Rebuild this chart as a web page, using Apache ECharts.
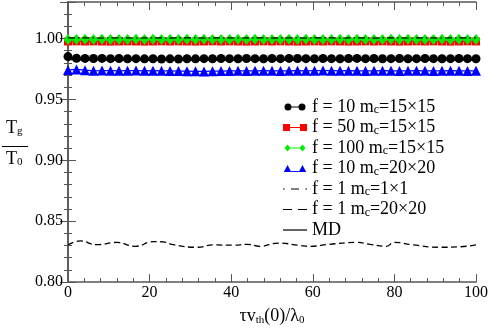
<!DOCTYPE html>
<html><head><meta charset="utf-8">
<script src="https://cdn.jsdelivr.net/npm/echarts@6/dist/echarts.min.js"></script>
<style>html,body{margin:0;padding:0;background:#fff}#c{width:491px;height:331px}</style>
</head><body><div id="c"></div>
<script>
const tau = [0,2.08,4.17,6.25,8.33,10.42,12.5,14.58,16.67,18.75,20.83,22.92,25,27.08,29.17,31.25,33.33,35.42,37.5,39.58,41.67,43.75,45.83,47.92,50,52.08,54.17,56.25,58.33,60.42,62.5,64.58,66.67,68.75,70.83,72.92,75,77.08,79.17,81.25,83.33,85.42,87.5,89.58,91.67,93.75,95.83,97.92,100];
const f10_15 = [0.9852,0.9838,0.9837,0.9836,0.9837,0.9835,0.9836,0.9834,0.9835,0.9833,0.9834,0.9832,0.9833,0.9832,0.9834,0.9833,0.9835,0.9834,0.9836,0.9835,0.9834,0.9836,0.9835,0.9834,0.9836,0.9835,0.9837,0.9836,0.9835,0.9834,0.9836,0.9835,0.9834,0.9836,0.9837,0.9835,0.9836,0.9834,0.9835,0.9836,0.9834,0.9835,0.9836,0.9835,0.9834,0.9835,0.9836,0.9835,0.9834];
const f50_15 = [0.9976,0.9977,0.9976,0.9977,0.9976,0.9975,0.9976,0.9977,0.9976,0.9975,0.9976,0.9977,0.9976,0.9977,0.9976,0.9975,0.9976,0.9977,0.9976,0.9977,0.9976,0.9975,0.9976,0.9977,0.9976,0.9977,0.9976,0.9975,0.9976,0.9977,0.9976,0.9977,0.9976,0.9975,0.9976,0.9977,0.9976,0.9977,0.9976,0.9975,0.9976,0.9977,0.9976,0.9977,0.9976,0.9975,0.9976,0.9977,0.9976];
const f100_15 = [0.9992,0.9993,0.9994,0.9993,0.9994,0.9993,0.9992,0.9993,0.9994,0.9993,0.9994,0.9993,0.9992,0.9993,0.9994,0.9993,0.9994,0.9993,0.9992,0.9993,0.9994,0.9993,0.9994,0.9993,0.9992,0.9993,0.9994,0.9993,0.9994,0.9993,0.9992,0.9993,0.9994,0.9993,0.9994,0.9993,0.9992,0.9993,0.9994,0.9993,0.9994,0.9993,0.9992,0.9993,0.9994,0.9993,0.9994,0.9993,0.9993];
const f10_20 = [0.9742,0.9746,0.9740,0.9735,0.9737,0.9736,0.9735,0.9736,0.9737,0.9735,0.9736,0.9735,0.9734,0.9733,0.9732,0.9731,0.9730,0.9732,0.9733,0.9734,0.9735,0.9734,0.9735,0.9736,0.9735,0.9734,0.9735,0.9736,0.9735,0.9736,0.9737,0.9736,0.9735,0.9736,0.9735,0.9734,0.9735,0.9736,0.9735,0.9734,0.9735,0.9736,0.9735,0.9734,0.9735,0.9736,0.9735,0.9734,0.9735];
const md = [0.9828,0.9826,0.9824,0.9823,0.9825,0.9822,0.9824,0.9823,0.9822,0.9824,0.9822,0.9821,0.9822,0.9824,0.9822,0.9821,0.9823,0.9824,0.9822,0.9823,0.9824,0.9822,0.9823,0.9824,0.9823,0.9822,0.9824,0.9823,0.9824,0.9822,0.9823,0.9824,0.9822,0.9823,0.9824,0.9823,0.9822,0.9824,0.9823,0.9822,0.9824,0.9823,0.9822,0.9823,0.9824,0.9822,0.9823,0.9824,0.9823];
const f1_1 = [1.0006,1.0005,1.0006,1.0005,1.0004,1.0005,1.0006,1.0005,1.0004,1.0005,1.0006,1.0005,1.0004,1.0005,1.0006,1.0005,1.0004,1.0005,1.0006,1.0005,1.0004,1.0005,1.0006,1.0005,1.0004,1.0005,1.0006,1.0005,1.0004,1.0005,1.0006,1.0005,1.0004,1.0005,1.0006,1.0005,1.0004,1.0005,1.0006,1.0005,1.0004,1.0005,1.0006,1.0005,1.0004,1.0005,1.0006,1.0005,1.0005];
const lowTau = [0,3,7,12,16.4,21,23.4,25.8,31.6,35.6,40.5,44,47,51.5,57,59.3,64,70.8,74,78,80,84.6,91,96,100];
const f1_20 = [0.8305,0.8338,0.8307,0.8326,0.8294,0.8332,0.8330,0.8307,0.8286,0.8305,0.8303,0.8310,0.8294,0.8320,0.8300,0.8294,0.8310,0.8326,0.8310,0.8294,0.8326,0.8305,0.8286,0.8290,0.8305];
const xTicks = [0,20,40,60,80,100];
const yTicks = [0.80,0.85,0.90,0.95,1.00];
const names = ['f = 10 m{s|c}=15×15','f = 50 m{s|c}=15×15','f = 100 m{s|c}=15×15','f = 10 m{s|c}=20×20','f = 1 m{s|c}=1×1','f = 1 m{s|c}=20×20','MD'];

const pairs = a => tau.map((t,i)=>[t,a[i]]);
const FONT = 'Liberation Serif';
const circ = (x)=>`M${x},4 A4,4 0 1,0 ${x+8},4 A4,4 0 1,0 ${x},4 Z`;
const icons = [
  'path://'+circ(0)+' M8,3.5 L16,3.5 L16,4.5 L8,4.5 Z '+circ(16),
  'path://M0,0.5 L7,0.5 L7,7.5 L0,7.5 Z M7,3.5 L17,3.5 L17,4.5 L7,4.5 Z M17,0.5 L24,0.5 L24,7.5 L17,7.5 Z',
  'path://M0,4 L3.5,0 L7,4 L3.5,8 Z M7,3.5 L17,3.5 L17,4.5 L7,4.5 Z M17,4 L20.5,0 L24,4 L20.5,8 Z',
  'path://M0,8 L4,0.5 L8,8 Z M8,7 L16,7 L16,8 L8,8 Z M16,8 L20,0.5 L24,8 Z',
  'path://M0,0 L1.6,0 L1.6,1.2 L0,1.2 Z M8,0 L16,0 L16,1.2 L8,1.2 Z M22.4,0 L24,0 L24,1.2 L22.4,1.2 Z',
  'path://M0,0 L9,0 L9,1.2 L0,1.2 Z M15,0 L24,0 L24,1.2 L15,1.2 Z',
  'path://M0,0 L24,0 L24,1.2 L0,1.2 Z'
];
const colors = ['#000','#ff0000','#00ee00','#0000ff','#000','#000','#000'];

const axisCommon = {
  type:'value', min:0, max:100, interval:20,
  axisLine:{show:true, lineStyle:{color:'#555', width:1.5}},
  axisTick:{show:true, inside:true, length:8, lineStyle:{color:'#555', width:1}},
  minorTick:{show:true, splitNumber:5, length:4, lineStyle:{color:'#555', width:1}},
  splitLine:{show:false}, minorSplitLine:{show:false}
};
const yCommon = {
  type:'value', min:0.80, max:1.03, interval:0.05,
  axisLine:{show:true, lineStyle:{color:'#555', width:1.5}},
  axisTick:{show:true, inside:true, length:8, lineStyle:{color:'#555', width:1}},
  minorTick:{show:true, splitNumber:5, length:4, lineStyle:{color:'#555', width:1}},
  splitLine:{show:false}, minorSplitLine:{show:false}
};

const sym = {type:'line', showSymbol:true, symbolSize:9, lineStyle:{width:1.3}, animation:false};
const series = [
  {name:names[6], type:'line', data:pairs(md), showSymbol:false, symbol:'none', lineStyle:{color:'#000', width:1.3}, itemStyle:{color:'#000'}, smooth:true, z:2},
  Object.assign({}, sym, {name:names[0], data:pairs(f10_15), symbol:'circle', itemStyle:{color:colors[0]}, lineStyle:{color:colors[0], width:1.3}, z:3}),
  Object.assign({}, sym, {name:names[1], data:pairs(f50_15), symbol:'rect', symbolSize:8, itemStyle:{color:colors[1]}, lineStyle:{color:colors[1], width:1.3}, z:3}),
  Object.assign({}, sym, {name:names[2], data:pairs(f100_15), symbol:'diamond', symbolSize:[9,11], itemStyle:{color:colors[2]}, lineStyle:{color:colors[2], width:1.3}, z:4}),
  Object.assign({}, sym, {name:names[3], data:pairs(f10_20), symbol:'triangle', symbolSize:10, itemStyle:{color:colors[3]}, lineStyle:{color:colors[3], width:1.3}, z:3}),
  {name:names[4], type:'line', data:pairs(f1_1), showSymbol:false, symbol:'none', lineStyle:{color:'#000', width:1.2, type:[7,3,1.5,3]}, itemStyle:{color:'#000'}, z:5},
  {name:names[5], type:'line', data:lowTau.map((t,i)=>[t,f1_20[i]]), showSymbol:false, symbol:'none', smooth:true, lineStyle:{color:'#000', width:1.3, type:[6,3.5]}, itemStyle:{color:'#000'}, z:5}
];
series.forEach(s=>{s.animation=false; s.silent=true;});

const chart = echarts.init(document.getElementById('c'), null, {renderer:'canvas'});
chart.setOption({
  backgroundColor:'#fff',
  animation:false,
  grid:{left:68, right:15, top:2, bottom:42, containLabel:false},
  xAxis:[
    Object.assign({}, axisCommon, {position:'bottom',
      name:'τv{s|th}(0)/λ{s|0}', nameLocation:'middle', nameGap:12,
      nameTextStyle:{fontFamily:FONT, fontSize:18, color:'#000', lineHeight:20, rich:{s:{fontFamily:FONT, fontSize:11, lineHeight:11, verticalAlign:'bottom', color:'#000'}}},
      axisLabel:{show:true, margin:3, fontFamily:FONT, fontSize:16, color:'#000', formatter:v=>xTicks.includes(v)?String(v):''}}),
    Object.assign({}, axisCommon, {position:'top', axisLabel:{show:false}})
  ],
  yAxis:[
    Object.assign({}, yCommon, {position:'left',
      axisLabel:{show:true, margin:5, fontFamily:FONT, fontSize:16, color:'#000', showMaxLabel:false,
        formatter:v=>yTicks.some(t=>Math.abs(t-v)<1e-6)?v.toFixed(2):''}}),
    Object.assign({}, yCommon, {position:'right', axisLabel:{show:false}})
  ],
  legend:{
    show:true, orient:'vertical', left:278, top:93, itemWidth:24, itemHeight:7, itemGap:2.5, itemTextGap:6,
    selectedMode:false, symbolKeepAspect:true,
    textStyle:{fontFamily:FONT, fontSize:18, color:'#000', lineHeight:18, rich:{s:{fontFamily:FONT, fontSize:12, lineHeight:11, verticalAlign:'bottom', color:'#000'}}},
    data:names.map((n,i)=>({name:n, icon:icons[i], itemStyle:{color:colors[i], borderWidth:0}}))
  },
  graphic:[
    {type:'text', left:6, top:119, style:{text:'T{s|g}', fill:'#000', font:'18px "Liberation Serif"', rich:{s:{fontFamily:FONT, fontSize:11, lineHeight:11, verticalAlign:'bottom', fill:'#000'}}}},
    {type:'line', shape:{x1:2, y1:146.5, x2:28, y2:146.5}, style:{stroke:'#000', lineWidth:1}},
    {type:'text', left:6, top:150, style:{text:'T{s|0}', fill:'#000', font:'18px "Liberation Serif"', rich:{s:{fontFamily:FONT, fontSize:11, lineHeight:11, verticalAlign:'bottom', fill:'#000'}}}}
  ],
  series:series
});
</script></body></html>
